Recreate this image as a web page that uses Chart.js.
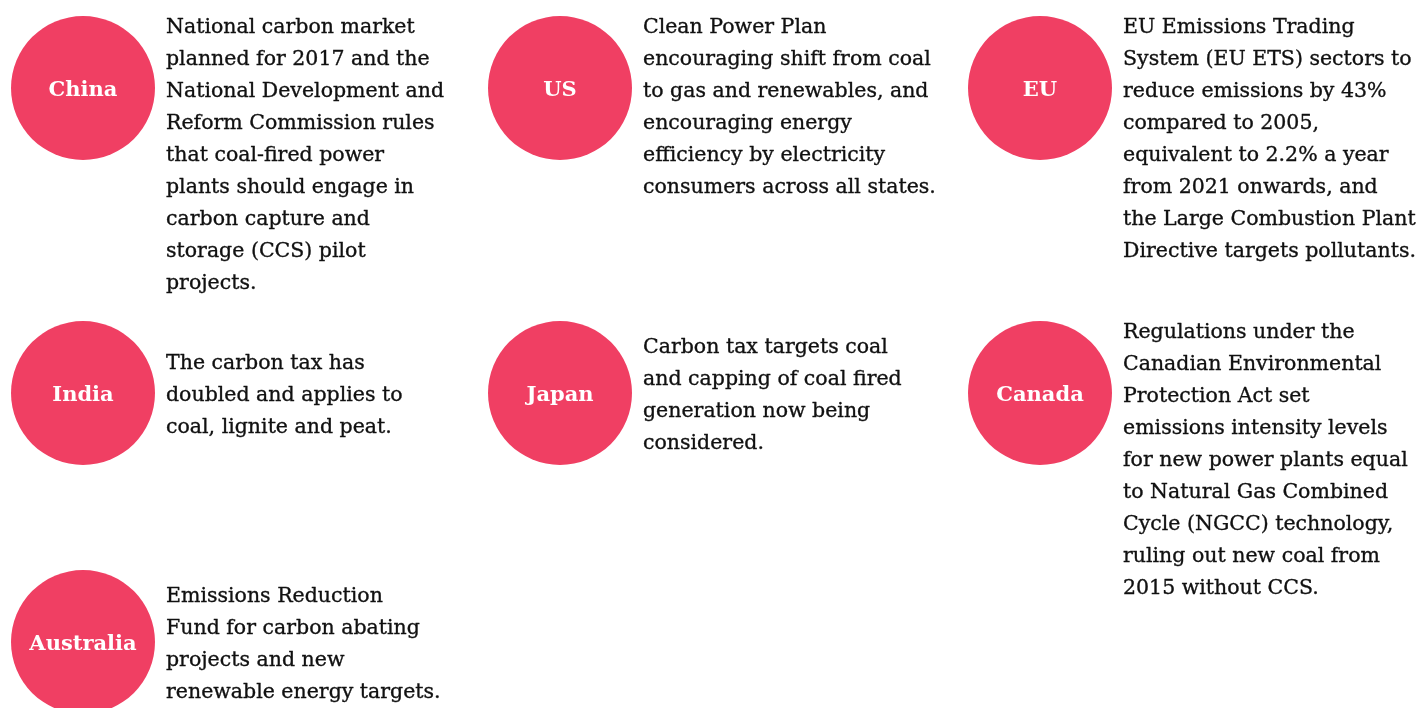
<!DOCTYPE html>
<html>
<head>
<meta charset="utf-8">
<script src="https://cdn.jsdelivr.net/npm/chart.js@4.4.1/dist/chart.umd.min.js"></script>
<style>
  html, body { margin: 0; padding: 0; background: #fff; }
  #wrap { width: 1419px; height: 708px; position: relative; }
</style>
</head>
<body>
<div id="wrap"><canvas id="policies"></canvas></div>
<script>
// data
const countries = ['China', 'US', 'EU', 'India', 'Japan', 'Canada', 'Australia'];
const columns = [0, 1, 2, 0, 1, 2, 0];
const rows = [0, 0, 0, 1, 1, 1, 2];
const descriptions = [
    ['National carbon market', 'planned for 2017 and the', 'National Development and', 'Reform Commission rules',
     'that coal-fired power', 'plants should engage in', 'carbon capture and', 'storage (CCS) pilot', 'projects.'],
    ['Clean Power Plan', 'encouraging shift from coal', 'to gas and renewables, and', 'encouraging energy',
     'efficiency by electricity', 'consumers across all states.'],
    ['EU Emissions Trading', 'System (EU ETS) sectors to', 'reduce emissions by 43%', 'compared to 2005,',
     'equivalent to 2.2% a year', 'from 2021 onwards, and', 'the Large Combustion Plant', 'Directive targets pollutants.'],
    ['The carbon tax has', 'doubled and applies to', 'coal, lignite and peat.'],
    ['Carbon tax targets coal', 'and capping of coal fired', 'generation now being', 'considered.'],
    ['Regulations under the', 'Canadian Environmental', 'Protection Act set', 'emissions intensity levels',
     'for new power plants equal', 'to Natural Gas Combined', 'Cycle (NGCC) technology,', 'ruling out new coal from',
     '2015 without CCS.'],
    ['Emissions Reduction', 'Fund for carbon abating', 'projects and new', 'renewable energy targets.']
];

// layout (grid cell centres in page units)
const COL_X = [83, 560, 1040];
const ROW_Y = [88, 393, 642];
const RADIUS = 72;
const LINE_H = 32;
const PINK = '#f03f63';
const SERIF = '"DejaVu Serif", serif';

const points = countries.map((c, i) => ({ x: COL_X[columns[i]], y: ROW_Y[rows[i]] }));

// name inside each circle + description text to its right
const textPlugin = {
    id: 'textPlugin',
    afterDatasetsDraw(chart) {
        const ctx = chart.ctx;
        const meta = chart.getDatasetMeta(0);
        ctx.save();
        ctx.lineJoin = 'round';
        meta.data.forEach((pt, i) => {
            ctx.fillStyle = '#fff';
            ctx.font = 'bold 21px ' + SERIF;
            ctx.textAlign = 'center';
            ctx.textBaseline = 'alphabetic';
            ctx.fillText(countries[i], pt.x, pt.y + 8);

            const lines = descriptions[i];
            const blockH = lines.length * LINE_H;
            const top = blockH < RADIUS * 2 ? pt.y - blockH / 2 : pt.y - RADIUS - 7;
            ctx.fillStyle = '#111';
            ctx.strokeStyle = '#111';
            ctx.lineWidth = 0.35;
            ctx.font = '20.5px ' + SERIF;
            ctx.textAlign = 'left';
            lines.forEach((line, k) => {
                const ty = top + k * LINE_H + LINE_H / 2 + 8;
                ctx.fillText(line, pt.x + 83, ty);
                ctx.strokeText(line, pt.x + 83, ty);
            });
        });
        ctx.restore();
    }
};

new Chart(document.getElementById('policies'), {
    type: 'scatter',
    data: {
        datasets: [{
            data: points,
            pointRadius: RADIUS,
            pointHoverRadius: RADIUS,
            backgroundColor: PINK,
            borderWidth: 0,
            clip: false
        }]
    },
    options: {
        responsive: true,
        maintainAspectRatio: false,
        animation: false,
        layout: { padding: 0, autoPadding: false },
        plugins: { legend: { display: false }, tooltip: { enabled: false } },
        scales: {
            x: { type: 'linear', min: 0, max: 1419, display: false },
            y: { type: 'linear', min: 0, max: 708, reverse: true, display: false }
        }
    },
    plugins: [textPlugin]
});
</script>
</body>
</html>
